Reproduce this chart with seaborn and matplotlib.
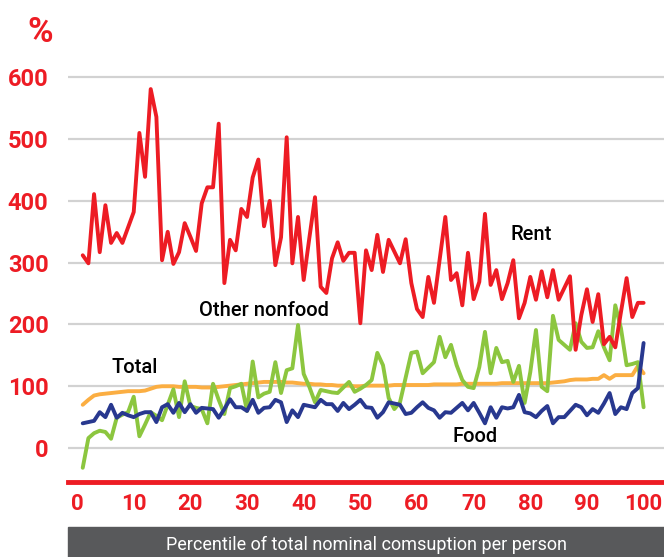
import numpy as np
import pandas as pd
import seaborn as sns
import matplotlib.pyplot as plt
from matplotlib.patches import Rectangle

# percentiles of total nominal consumption per person
percentile = np.arange(1, 101)

rent = [312, 299, 411, 317, 393, 332, 348, 332, 357, 382,
        510, 439, 581, 536, 304, 350, 298, 317, 364, 342,
        319, 396, 422, 422, 525, 267, 337, 320, 387, 374,
        438, 467, 359, 400, 296, 341, 503, 299, 374, 272,
        340, 406, 261, 251, 307, 333, 303, 316, 316, 202,
        320, 288, 345, 285, 337, 318, 299, 338, 267, 225,
        212, 277, 235, 305, 374, 272, 283, 231, 316, 241,
        269, 379, 264, 288, 241, 267, 304, 210, 235, 277,
        240, 286, 244, 288, 240, 259, 278, 159, 215, 257,
        204, 249, 168, 180, 163, 220, 275, 212, 235, 235]

other_nonfood = [-32, 16, 24, 28, 26, 15, 49, 54, 58, 83,
                 19, 38, 58, 52, 45, 70, 95, 50, 108, 68,
                 65, 63, 40, 104, 78, 55, 97, 100, 104, 60,
                 140, 82, 88, 91, 139, 89, 126, 129, 199, 120,
                 99, 74, 94, 92, 90, 89, 98, 107, 91, 96,
                 102, 110, 154, 134, 81, 63, 74, 114, 154, 156,
                 121, 130, 139, 180, 147, 167, 134, 110, 99, 97,
                 131, 188, 121, 162, 139, 141, 107, 133, 73, 123,
                 191, 99, 92, 214, 175, 167, 159, 202, 172, 162,
                 163, 189, 163, 142, 231, 194, 134, 136, 139, 66]

food = [40, 42, 44, 58, 50, 70, 49, 57, 53, 50,
        55, 58, 58, 42, 66, 71, 57, 73, 58, 71,
        57, 65, 64, 63, 49, 63, 79, 66, 66, 60,
        78, 57, 65, 66, 78, 74, 42, 61, 50, 70,
        68, 66, 78, 71, 71, 60, 73, 63, 70, 78,
        66, 65, 49, 58, 74, 72, 70, 55, 57, 66,
        74, 65, 61, 49, 58, 57, 65, 73, 61, 73,
        57, 40, 66, 49, 66, 64, 66, 86, 58, 56,
        50, 60, 68, 40, 50, 50, 60, 70, 66, 53,
        63, 57, 72, 89, 55, 66, 63, 89, 97, 170]

total = [70, 78, 85, 87, 88, 89, 90, 91, 92, 92,
         92, 93, 96, 99, 100, 100, 100, 99, 99, 99,
         99, 98, 98, 98, 99, 100, 101, 102, 103, 104,
         105, 106, 107, 107, 107, 107, 106, 106, 105, 104,
         104, 103, 103, 102, 102, 101, 101, 101, 100, 100,
         101, 101, 101, 101, 101, 102, 102, 102, 102, 102,
         102, 102, 103, 103, 103, 103, 103, 104, 104, 104,
         104, 104, 104, 104, 105, 105, 105, 105, 105, 105,
         105, 105, 105, 106, 107, 108, 110, 111, 111, 111,
         112, 112, 118, 112, 118, 118, 118, 118, 133, 121]

df = pd.DataFrame({"percentile": percentile, "Total": total,
                   "Other nonfood": other_nonfood, "Rent": rent, "Food": food})
df = df.melt(id_vars="percentile", var_name="series", value_name="value")

red = "#ed1c24"
colores = {"Total": "#fbae42", "Other nonfood": "#8cc63f",
           "Rent": red, "Food": "#28388f"}

sns.set_style("white")
plt.rcParams["font.family"] = ["Roboto", "DejaVu Sans"]
narrow = ["Liberation Sans Narrow", "Roboto", "DejaVu Sans"]

fig = plt.figure(figsize=(6.64, 5.57), dpi=100)
ax = fig.add_axes([68 / 664, 1 - 482 / 557, 1 - 68 / 664, (482 - 65) / 557])

sns.lineplot(data=df, x="percentile", y="value", hue="series",
             hue_order=["Total", "Other nonfood", "Rent", "Food"],
             palette=colores, linewidth=2.8, legend=False, ax=ax)

ax.set_xlim(-1.6, 103.6)
ax.set_ylim(-55, 620)
ax.set_xticks(range(0, 101, 10))
ax.set_yticks(range(0, 601, 100))
ax.set_xlabel("")
ax.set_ylabel("")
ax.yaxis.grid(True, color="#d2d2d2", linewidth=1.6)
ax.set_axisbelow(True)

for s in ["top", "left", "right"]:
    ax.spines[s].set_visible(False)
ax.spines["bottom"].set_color(red)
ax.spines["bottom"].set_linewidth(3.5)

ax.tick_params(axis="both", length=0, colors=red)
ax.tick_params(axis="y", pad=14)
ax.tick_params(axis="x", pad=8)
for lab in ax.get_yticklabels():
    lab.set_fontfamily(narrow)
    lab.set_fontweight("bold")
    lab.set_fontsize(17)
for lab in ax.get_xticklabels():
    lab.set_fontfamily(narrow)
    lab.set_fontweight("bold")
    lab.set_fontsize(16)

# series labels
etiqueta = dict(ha="center", va="center", fontsize=14.5, color="black", fontweight="medium")
ax.text(80.2, 345, "Rent", **etiqueta)
ax.text(33, 222, "Other nonfood", **etiqueta)
ax.text(10.2, 131, "Total", **etiqueta)
ax.text(70.2, 18, "Food", **etiqueta)

fig.text(27 / 664, 1 - 33 / 557, "%", color=red, fontsize=25, fontweight="bold",
         family=narrow, ha="left", va="center")

fig.add_artist(Rectangle((68 / 664, 0), 1 - 68 / 664, 30 / 557,
                         transform=fig.transFigure, color="#58595b"))
fig.text(366 / 664, 1 - 545 / 557, "Percentile of total nominal comsuption per person",
         color="white", fontsize=13, family=narrow, ha="center", va="center")

fig.savefig("out.png", dpi=100)
